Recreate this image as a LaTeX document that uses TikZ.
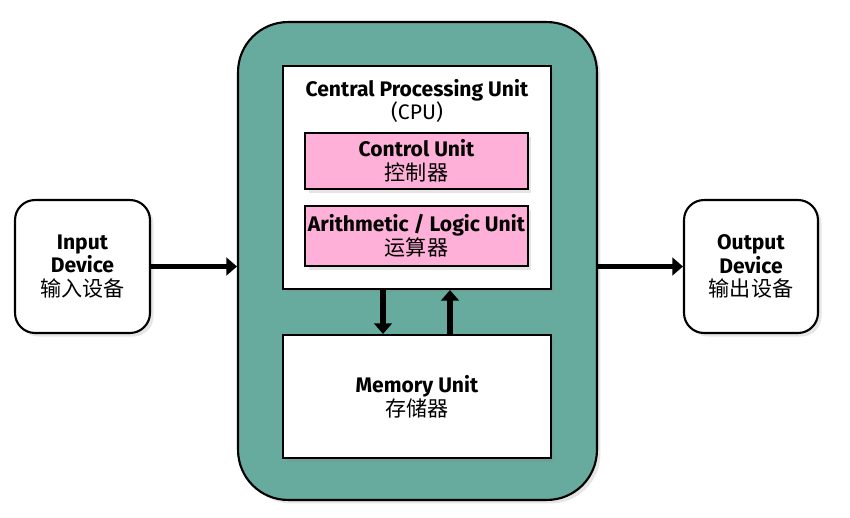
\documentclass[tikz,border=0pt]{standalone}
\usepackage{fontspec}
\setmainfont{Fira Sans}
\newfontfamily\cjk{Noto Sans CJK SC}
\usetikzlibrary{positioning}
\usetikzlibrary{arrows.meta}
\usetikzlibrary{shadows}
\definecolor{sysgreen}{HTML}{67AB9F}
\definecolor{unitpink}{HTML}{FFB0D8}
\tikzset{
	unitbox/.style={draw=black,line width=1.2pt,align=center,font=\fontsize{12}{13.5}\selectfont,inner sep=1pt,
		drop shadow={opacity=0.2,shadow xshift=2pt,shadow yshift=-2pt}},
	bigarrow/.style={line width=3.2pt,-{Triangle[length=6pt,width=10pt]}}
}
\begin{document}
\begin{tikzpicture}[x=0.02cm,y=-0.02cm]
	\useasboundingbox (0,0) rectangle (850,518);
	\node[unitbox,fill=sysgreen,rounded corners=1cm,minimum width=7.18cm,minimum height=9.56cm] (sys) at (417.5,261) {};
	\node[unitbox,fill=white,minimum width=5.36cm,minimum height=4.46cm] (cpu) at (417,177.5) {};
	\node[align=center,font=\fontsize{12}{13.5}\selectfont] (cputitle) at (417,101) {\textbf{Central Processing Unit}\\(CPU)};
	\node[unitbox,fill=unitpink,minimum width=4.46cm,minimum height=1.12cm] (cu) at (416.5,161) {\textbf{Control Unit}\\{\cjk 控制器}};
	\node[unitbox,fill=unitpink,minimum width=4.46cm,minimum height=1.2cm] (alu) at (416.5,236) {\textbf{Arithmetic / Logic Unit}\\{\cjk 运算器}};
	\node[unitbox,fill=white,minimum width=5.36cm,minimum height=2.46cm] (mem) at (417,396.5) {\textbf{Memory Unit}\\{\cjk 存储器}};
	\node[unitbox,fill=white,rounded corners=0.4cm,minimum width=2.7cm,minimum height=2.66cm] (inp) at (82.5,266.5) {\textbf{Input}\\\textbf{Device}\\{\cjk 输入设备}};
	\node[unitbox,fill=white,rounded corners=0.4cm,minimum width=2.68cm,minimum height=2.66cm] (out) at (751,266.5) {\textbf{Output}\\\textbf{Device}\\{\cjk 输出设备}};
	\draw[bigarrow] (inp.east) -- (inp.east -| sys.west);
	\draw[bigarrow] (out.west -| sys.east) -- (out.west);
	\draw[bigarrow] ([xshift=-0.68cm]cpu.south) -- ([xshift=-0.68cm]mem.north);
	\draw[bigarrow] ([xshift=0.66cm]mem.north) -- ([xshift=0.66cm]cpu.south);
\end{tikzpicture}
\end{document}
